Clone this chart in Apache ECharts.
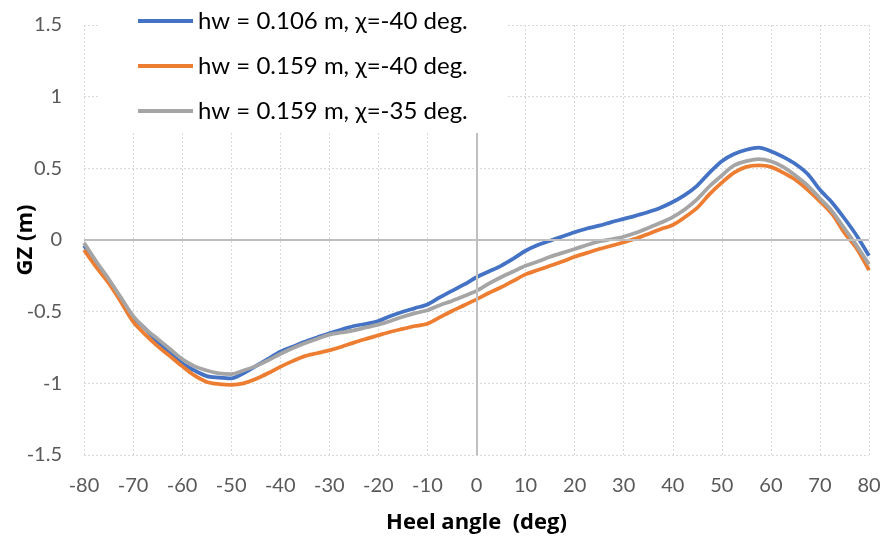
<!DOCTYPE html>
<html>
<head>
<meta charset="utf-8">
<style>
  html, body { margin: 0; padding: 0; background: #ffffff; }
  #chart { width: 882px; height: 538px; }
</style>
<script src="https://cdn.jsdelivr.net/npm/echarts@6/dist/echarts.min.js"></script>
</head>
<body>
<div id="chart"></div>
<script>
// Heel angles (deg), 2.5 deg steps
const heel = [
  -80, -77.5, -75, -72.5, -70, -67.5, -65, -62.5, -60, -57.5, -55, -52.5, -50,
  -47.5, -45, -42.5, -40, -37.5, -35, -32.5, -30, -27.5, -25, -22.5, -20,
  -17.5, -15, -12.5, -10, -7.5, -5, -2.5, 0, 2.5, 5, 7.5, 10, 12.5, 15,
  17.5, 20, 22.5, 25, 27.5, 30, 32.5, 35, 37.5, 40, 42.5, 45, 47.5, 50,
  52.5, 55, 57.5, 60, 62.5, 65, 67.5, 70, 72.5, 75, 77.5, 80
];

// GZ (m), hw = 0.106 m, chi = -40 deg
const gzHw106Chi40 = [
  -0.04, -0.16, -0.28, -0.41, -0.54, -0.62, -0.71, -0.78, -0.86, -0.91, -0.95, -0.96, -0.965,
  -0.93, -0.88, -0.83, -0.78, -0.745, -0.71, -0.68, -0.65, -0.625, -0.60, -0.585, -0.565,
  -0.53, -0.50, -0.475, -0.45, -0.40, -0.355, -0.31, -0.26, -0.22, -0.18, -0.13, -0.075, -0.035, -0.005,
  0.025, 0.054, 0.08, 0.10, 0.125, 0.147, 0.17, 0.195, 0.225, 0.265, 0.315, 0.38, 0.47, 0.55,
  0.60, 0.63, 0.645, 0.62, 0.58, 0.53, 0.46, 0.35, 0.26, 0.15, 0.03, -0.11
];

// GZ (m), hw = 0.159 m, chi = -40 deg
const gzHw159Chi40 = [
  -0.07, -0.19, -0.30, -0.43, -0.57, -0.66, -0.74, -0.81, -0.88, -0.945, -0.99, -1.005, -1.01,
  -1.00, -0.97, -0.93, -0.885, -0.845, -0.81, -0.79, -0.77, -0.745, -0.716, -0.69, -0.665,
  -0.64, -0.62, -0.60, -0.584, -0.54, -0.495, -0.455, -0.414, -0.37, -0.33, -0.285, -0.24, -0.21, -0.18,
  -0.15, -0.117, -0.09, -0.063, -0.04, -0.016, 0.01, 0.042, 0.075, 0.105, 0.16, 0.225, 0.32, 0.40,
  0.47, 0.51, 0.52, 0.51, 0.47, 0.42, 0.35, 0.27, 0.18, 0.05, -0.06, -0.21
];

// GZ (m), hw = 0.159 m, chi = -35 deg
const gzHw159Chi35 = [
  -0.02, -0.15, -0.27, -0.40, -0.53, -0.62, -0.69, -0.76, -0.83, -0.88, -0.91, -0.93, -0.935,
  -0.91, -0.88, -0.84, -0.795, -0.755, -0.72, -0.69, -0.66, -0.645, -0.63, -0.61, -0.59,
  -0.565, -0.535, -0.51, -0.49, -0.455, -0.425, -0.39, -0.355, -0.305, -0.26, -0.22, -0.18, -0.15, -0.117,
  -0.09, -0.063, -0.035, -0.01, 0.005, 0.023, 0.05, 0.084, 0.12, 0.16, 0.215, 0.285, 0.375, 0.45,
  0.52, 0.55, 0.565, 0.55, 0.51, 0.45, 0.38, 0.29, 0.20, 0.08, -0.04, -0.17
];

const seriesNames = [
  'hw = 0.106 m, \u03c7=-40 deg.',
  'hw = 0.159 m, \u03c7=-40 deg.',
  'hw = 0.159 m, \u03c7=-35 deg.'
];
const seriesColors = ['#4472C4', '#ED7D31', '#A5A5A5'];

const pairs = (ys) => heel.map((x, i) => [x, ys[i]]);

const FONT = 'Lato, "Open Sans", sans-serif';
const TITLE_FONT = '"Open Sans", Lato, sans-serif';
const gridLine = { show: true, lineStyle: { color: '#D9D9D9', width: 1, type: [2, 2] } };

const chart = echarts.init(document.getElementById('chart'), null, { renderer: 'canvas' });

const curve = (name, ys, color) => ({
  name,
  type: 'line',
  data: pairs(ys),
  showSymbol: false,
  symbol: 'none',
  smooth: 0.3,
  lineStyle: { color, width: 3.75 },
  itemStyle: { color },
  z: 3
});

chart.setOption({
  animation: false,
  backgroundColor: '#ffffff',
  textStyle: { fontFamily: FONT },
  grid: { left: 84, right: 13, top: 25, bottom: 83, containLabel: false, outerBoundsMode: 'none' },
  legend: {
    data: seriesNames,
    orient: 'vertical',
    left: 100,
    top: 0,
    padding: [9, 40, 10, 38],
    backgroundColor: '#ffffff',
    icon: 'rect',
    itemWidth: 55,
    itemHeight: 4,
    itemGap: 21,
    textStyle: { fontFamily: FONT, fontSize: 24, color: '#000000', lineHeight: 24 },
    z: 10
  },
  xAxis: {
    type: 'value',
    min: -80,
    max: 80,
    interval: 10,
    name: 'Heel angle  (deg)',
    nameLocation: 'middle',
    nameGap: 57,
    nameMoveOverlap: false,
    nameTextStyle: { fontFamily: TITLE_FONT, fontSize: 22, fontWeight: 'bold', color: '#000000' },
    axisLine: { show: false, onZero: false },
    axisTick: { show: false },
    axisLabel: { fontFamily: FONT, fontSize: 20, color: '#595959', margin: 21 },
    splitLine: gridLine
  },
  yAxis: {
    type: 'value',
    min: -1.5,
    max: 1.5,
    interval: 0.5,
    name: 'GZ (m)',
    nameLocation: 'middle',
    nameGap: 47,
    nameMoveOverlap: false,
    nameTextStyle: { fontFamily: TITLE_FONT, fontSize: 22, fontWeight: 'bold', color: '#000000' },
    axisLine: { show: false, onZero: false },
    axisTick: { show: false },
    axisLabel: { fontFamily: FONT, fontSize: 20, color: '#595959', margin: 22 },
    splitLine: gridLine
  },
  series: [
    {
      // zero reference lines through the origin
      name: 'zero',
      type: 'line',
      data: [],
      silent: true,
      z: 2,
      markLine: {
        silent: true,
        symbol: 'none',
        label: { show: false },
        lineStyle: { color: '#BFBFBF', width: 2, type: 'solid' },
        data: [{ yAxis: 0 }, { xAxis: 0 }]
      }
    },
    curve(seriesNames[0], gzHw106Chi40, seriesColors[0]),
    curve(seriesNames[1], gzHw159Chi40, seriesColors[1]),
    curve(seriesNames[2], gzHw159Chi35, seriesColors[2])
  ]
});
</script>
</body>
</html>
